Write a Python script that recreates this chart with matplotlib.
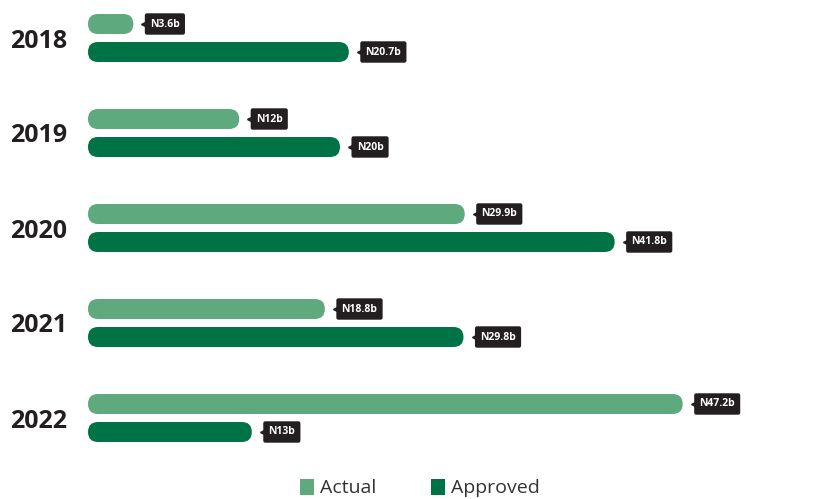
import matplotlib
matplotlib.use("Agg")
import matplotlib.pyplot as plt
from matplotlib.patches import FancyBboxPatch, Patch
from matplotlib.transforms import offset_copy

plt.rcParams['font.family'] = ['Open Sans', 'DejaVu Sans']

years = ['2018', '2019', '2020', '2021', '2022']
actual = [3.6, 12, 29.9, 18.8, 47.2]
approved = [20.7, 20, 41.8, 29.8, 13]

c_actual = '#5ea97d'
c_approved = '#007346'
c_label = '#231f20'

W, H = 825, 499
px = 12.6          # pixels per billion
bar_h = 20
row_gap = 95
top = 38

fig = plt.figure(figsize=(W / 100, H / 100), dpi=100)
ax = fig.add_axes([88 / W, 0, (W - 88) / W, 1])
ax.set_xlim(0, (W - 88) / px)
ax.set_ylim(H, 0)
ax.axis('off')


def rounded_bar(y, value, color):
    r = (bar_h / 2) / px
    box = FancyBboxPatch((0, y - bar_h / 2), value, bar_h,
                         boxstyle=f"round,pad=0,rounding_size={r}",
                         mutation_aspect=px, facecolor=color,
                         edgecolor='none')
    ax.add_patch(box)
    # value tag with a small pointer
    tri = offset_copy(ax.transData, fig=fig, x=8, y=0, units='points')
    ax.plot([value], [y], marker='<', markersize=5, color=c_label,
            transform=tri, clip_on=False)
    ax.annotate(f"N{value:g}b", xy=(value, y), xytext=(12, 0),
                textcoords='offset points', ha='left', va='center',
                fontsize=7.5, fontweight='bold', color='white',
                bbox=dict(boxstyle='round,pad=0.5,rounding_size=0.2',
                          facecolor=c_label, edgecolor='none'))


for i, yr in enumerate(years):
    yc = top + i * row_gap
    rounded_bar(yc - 14, actual[i], c_actual)
    rounded_bar(yc + 14, approved[i], c_approved)
    fig.text(10 / W, 1 - (yc + 3) / H, yr, ha='left', va='center',
             fontsize=18, fontweight='bold', color='#231f20')

handles = [Patch(facecolor=c_actual, label='Actual'),
           Patch(facecolor=c_approved, label='Approved')]
fig.legend(handles=handles, loc='center', bbox_to_anchor=(420 / W, 1 - 488 / H),
           ncol=2, frameon=False, fontsize=14, handlelength=0.75,
           handleheight=0.9, handletextpad=0.3, columnspacing=2.8,
           labelcolor='#333333')

fig.savefig('out.png', dpi=100)
